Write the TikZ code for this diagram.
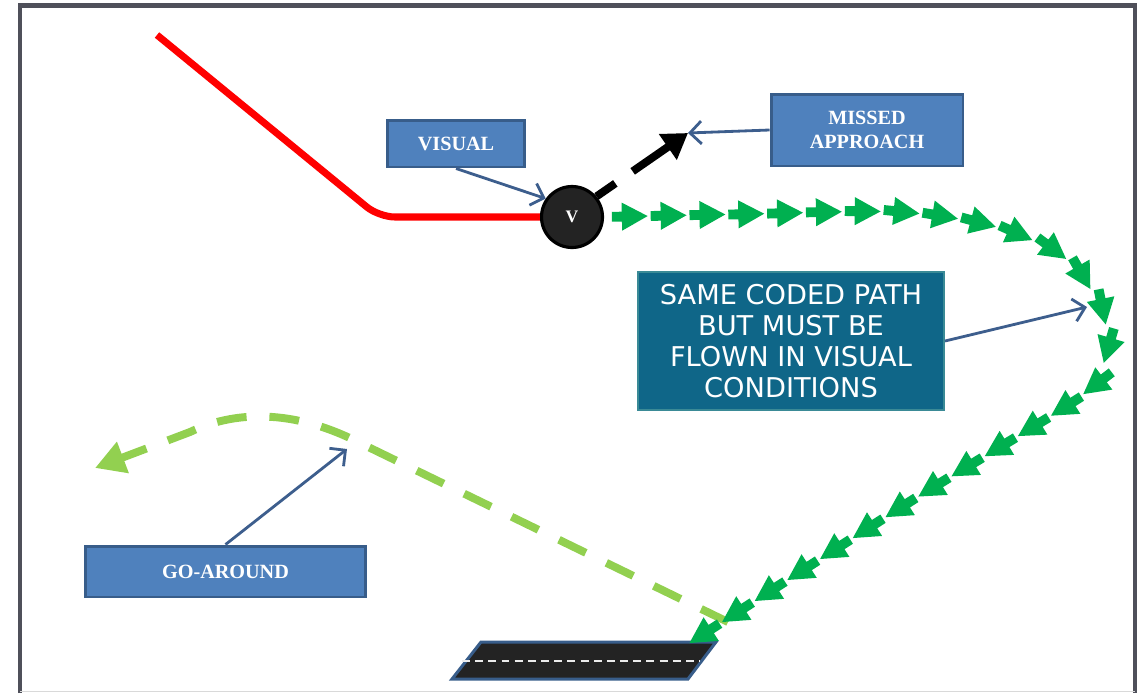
\documentclass[tikz,border=0pt]{standalone}
\usepackage{fontspec}
\setmainfont{Liberation Serif}
\newfontfamily\calloutfont{DejaVu Sans}
\usetikzlibrary{arrows.meta}
\usetikzlibrary{decorations.markings}

\definecolor{boxblue}{HTML}{4F81BD}
\definecolor{boxedge}{HTML}{385D8A}
\definecolor{tealbox}{HTML}{0F6688}
\definecolor{tealedge}{HTML}{3A8A96}
\definecolor{pathgreen}{HTML}{00B050}
\definecolor{gagreen}{HTML}{92D050}
\definecolor{framegray}{HTML}{4F505A}
\definecolor{callblue}{HTML}{3D5E8D}
\definecolor{rwdark}{HTML}{232323}

\begin{document}
\begin{tikzpicture}[x=0.02cm, y=-0.02cm,
    labelbox/.style={draw=boxedge, line width=1.7pt, fill=boxblue, text=white,
        font=\bfseries\fontsize{11.5}{14}\selectfont, align=center, inner sep=0pt},
    callout/.style={callblue, line width=1.6pt, -{Straight Barb[length=6.5pt,width=13pt]}},
    chevrons/.style={decorate, decoration={markings,
        mark=between positions 1pt and -20pt step 22.1pt with {
            \fill[pathgreen] (0pt,0pt) -- (14.7pt,8pt) -- (14.7pt,2.8pt) -- (20.4pt,2.8pt)
                -- (20.4pt,-2.8pt) -- (14.7pt,-2.8pt) -- (14.7pt,-8pt) -- cycle;}}}]
        \useasboundingbox (0,0) rectangle (1145,693);

        \coordinate (S) at (157,35);     % red start
        \coordinate (K) at (379,217);    % red bend
        \coordinate (MA) at (688,133);   % missed approach tip
        \coordinate (SP) at (1087,307);  % on coded path
        \coordinate (GP) at (347,449);   % on go-around
        \coordinate (GS) at (728,622);   % go-around start
        \coordinate (GE) at (95,468);    % go-around end
        \coordinate (RE) at (688,644);   % coded path end

        \draw[framegray, line width=2.3pt] (20,693) -- (20,5.5) -- (1135,5.5) -- (1135,693); % frame
        \draw[gray!30, line width=0.8pt] (20,691.6) -- (1135,691.6);

        \draw[boxedge, line width=1.7pt, fill=rwdark] (452,679) -- (481,642) -- (716,642) -- (688,679) -- cycle; % runway
        \draw[white!85!gray, line width=0.8pt, dash pattern=on 4.5pt off 3pt] (462,661) -- (700,661);

        \draw[gagreen, line width=4.5pt, dash pattern=on 17pt off 13pt, -{Triangle[length=17pt,width=18pt]}]
            (GS) -- (360,443) .. controls (300,412) and (240,408) .. (190,432) -- (GE); % go-around

        \node[circle, draw=black, line width=1.8pt, fill=rwdark, minimum size=1.22cm, inner sep=0pt,
            text=white, font=\bfseries\fontsize{10}{11}\selectfont] (V) at (572,217) {V};

        \path[chevrons] plot[smooth, tension=0.5] coordinates {(RE) (900,508) (1078,398) (1104,362)
            (1104,318) (1070,262) (1000,228) (900,212) (750,214) (V.east)}; % coded path

        \draw[red, line width=4pt, rounded corners=9pt] (S) -- (K) -- (V.west); % visual segment
        \draw[black, line width=4.5pt, dash pattern=on 13pt off 12pt on 200pt, -{Triangle[length=14pt,width=17pt]}] (V.40) -- (MA);

        \node[labelbox, minimum width=2.74cm, minimum height=0.94cm] (VIS) at (456,143.5) {VISUAL};
        \node[labelbox, minimum width=3.84cm, minimum height=1.44cm] (MISS) at (867,130) {MISSED\\APPROACH};
        \node[labelbox, minimum width=5.62cm, minimum height=1.02cm] (GA) at (225.5,571.5) {GO-AROUND};
        \node[draw=tealedge, line width=1.2pt, fill=tealbox, text=white, minimum width=6.12cm, minimum height=2.76cm,
            align=center, inner sep=0pt, font=\calloutfont\fontsize{15.5}{17.6}\selectfont]
            (SAME) at (791,341) {SAME CODED PATH\\BUT MUST BE\\FLOWN IN VISUAL\\CONDITIONS};

        \draw[callout] (VIS.south) -- (V.145);
        \draw[callout] (MISS.west) -- (MA);
        \draw[callout] (SAME.east) -- (SP);
        \draw[callout] (GA.north) -- (GP);
\end{tikzpicture}
\end{document}
